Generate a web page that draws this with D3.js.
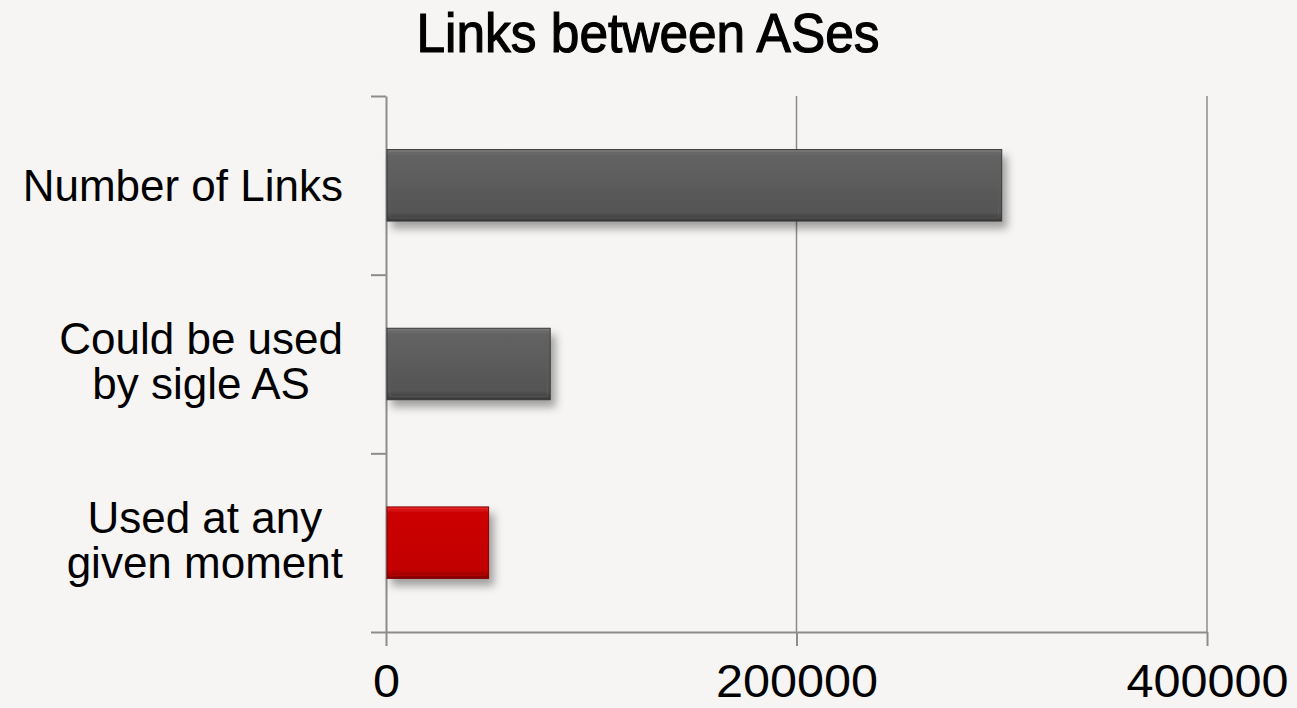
<!DOCTYPE html>
<html>
<head>
<meta charset="utf-8">
<script src="https://cdn.jsdelivr.net/npm/d3@7"></script>
<style>
  body { margin: 0; background: #f6f5f3; }
  svg { display: block; }
</style>
</head>
<body>
<svg id="chart" width="1297" height="708"></svg>
<script>
// data
var categories = [["Number of Links"], ["Could be used", "by sigle AS"], ["Used at any", "given moment"]];
var values = [300000, 80000, 50000];
var barColors = ["gray", "gray", "red"];
var tickValues = [0, 200000, 400000];

var svg = d3.select('#chart');
var width = 1297, height = 708;
var plot = {left: 386, right: 1207, top: 96, bottom: 632};

svg.append("rect").attr("width", width).attr("height", height).attr("fill", "#f6f5f3");

var defs = svg.append("defs");
var shades = {
    gray: {top: "#7c7c7c", mid: "#636363", bot: "#545454", edge: "#383838"},
    red: {top: "#f03030", mid: "#cc0404", bot: "#c20000", edge: "#820000"}
};
Object.keys(shades).forEach(function(k) {
    var s = shades[k];
    var g = defs.append("linearGradient").attr("id", "grad-" + k)
        .attr("x1", 0).attr("y1", 0).attr("x2", 0).attr("y2", 1);
    g.append("stop").attr("offset", "0%").attr("stop-color", s.top);
    g.append("stop").attr("offset", "8%").attr("stop-color", s.mid);
    g.append("stop").attr("offset", "88%").attr("stop-color", s.bot);
    g.append("stop").attr("offset", "100%").attr("stop-color", s.edge);
});
var shadow = defs.append("filter").attr("id", "shadow")
    .attr("x", "-10%").attr("y", "-20%").attr("width", "130%").attr("height", "160%");
shadow.append("feDropShadow").attr("dx", 5).attr("dy", 7).attr("stdDeviation", 4)
    .attr("flood-color", "#000").attr("flood-opacity", 0.35);

var x = d3.scaleLinear().domain([0, 400000]).range([plot.left, plot.right]);
var keys = categories.map(function(c) { return c.join(" "); });
var y = d3.scaleBand().domain(keys).range([plot.top, plot.bottom])
    .paddingInner(0.6).paddingOuter(0.3);

// gridlines
svg.append("g").selectAll("line").data(tickValues.slice(1)).enter().append("line")
    .attr("x1", function(d) { return x(d); }).attr("x2", function(d) { return x(d); })
    .attr("y1", plot.top).attr("y2", plot.bottom)
    .attr("stroke", "#8c8c8c").attr("stroke-width", 1.5);

// category axis (ticks at band edges)
var yEdge = d3.scaleLinear().domain([0, 3]).range([plot.top, plot.bottom]);
var yAxis = svg.append("g")
    .attr("transform", "translate(" + plot.left + ",0)")
    .call(d3.axisLeft(yEdge).ticks(3).tickFormat("").tickSize(15).tickSizeOuter(0));
yAxis.selectAll("line, path").attr("stroke", "#8c8c8c").attr("stroke-width", 2);

// value axis
var xAxis = svg.append("g")
    .attr("transform", "translate(0," + plot.bottom + ")")
    .call(d3.axisBottom(x).tickValues(tickValues).tickFormat(d3.format("d")).tickSize(14).tickSizeOuter(0));
xAxis.selectAll("line, path").attr("stroke", "#8c8c8c").attr("stroke-width", 2);
xAxis.selectAll("text")
    .attr("y", 65).attr("dy", 0)
    .attr("fill", "#000")
    .style("font-family", "'Liberation Sans', Arial, sans-serif")
    .style("font-size", "47px")
    .attr("textLength", function(d) { return String(d).length * 27; })
    .attr("lengthAdjust", "spacingAndGlyphs");

// bars
var bars = svg.append("g").selectAll("g").data(values).enter().append("g");
bars.append("rect")
    .attr("x", x(0) + 1)
    .attr("y", function(d, i) { return y(keys[i]); })
    .attr("width", function(d) { return x(d) - x(0) - 1; })
    .attr("height", y.bandwidth())
    .attr("fill", function(d, i) { return "url(#grad-" + barColors[i] + ")"; })
    .attr("stroke", function(d, i) { return shades[barColors[i]].edge; })
    .attr("stroke-width", 1)
    .attr("filter", "url(#shadow)");
bars.append("rect")
    .attr("x", x(0) + 4)
    .attr("y", function(d, i) { return y(keys[i]) + 3; })
    .attr("width", function(d) { return x(d) - x(0) - 7; })
    .attr("height", y.bandwidth() - 6)
    .attr("fill", "none")
    .attr("stroke", function(d, i) { return shades[barColors[i]].mid; })
    .attr("stroke-opacity", 0.6)
    .attr("stroke-width", 1);

// category labels, block right-aligned, lines centered
var labelRight = 343;
categories.forEach(function(lines, i) {
    var cy = y(keys[i]) + y.bandwidth() / 2;
    var g = svg.append("g");
    var texts = lines.map(function(line, j) {
        return g.append("text")
            .attr("y", cy + 16 - (lines.length - 1) * 26 + j * 45)
            .attr("text-anchor", "middle")
            .style("font-family", "'Liberation Sans', Arial, sans-serif")
            .style("font-size", "44px")
            .attr("fill", "#000")
            .text(line);
    });
    var w = d3.max(texts, function(t) { return t.node().getComputedTextLength(); });
    texts.forEach(function(t) { t.attr("x", labelRight - w / 2); });
});

// title
svg.append("text")
    .attr("x", 648).attr("y", 52)
    .attr("text-anchor", "middle")
    .style("font-family", "'Liberation Sans', Arial, sans-serif")
    .style("font-size", "55px")
    .attr("textLength", 463).attr("lengthAdjust", "spacingAndGlyphs")
    .attr("fill", "#000")
    .attr("stroke", "#000").attr("stroke-width", 1.2)
    .text("Links between ASes");
</script>
</body>
</html>
